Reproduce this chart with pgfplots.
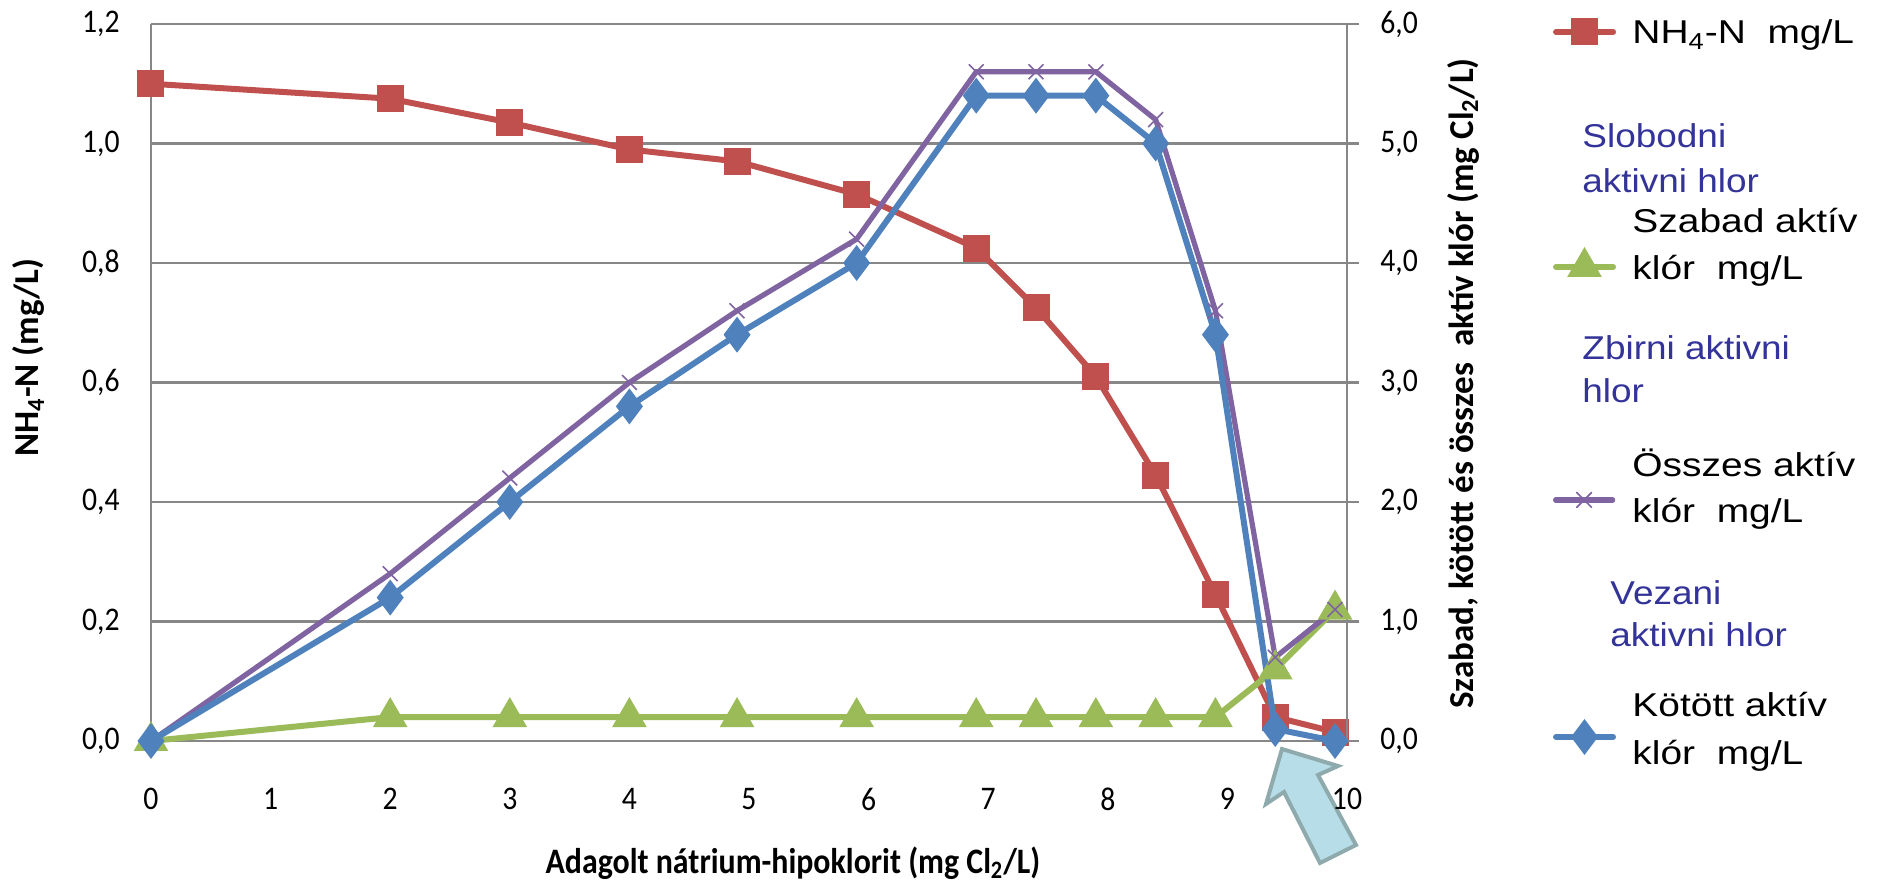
\documentclass[border=0pt]{standalone}
\usepackage{pgfplots}
\pgfplotsset{compat=1.18}
\usepackage{fontspec}
\setmainfont{Carlito}
\newfontfamily\tickfont{Carlito}[FakeStretch=0.9]
\newfontfamily\xtfont{Carlito}[FakeStretch=0.89]
\newfontfamily\legfont{Liberation Sans}[FakeStretch=1.18]
\newfontfamily\bluefont{Liberation Sans}[FakeStretch=1.12]
\definecolor{cred}{HTML}{C0504D}
\definecolor{cgreen}{HTML}{9BBB59}
\definecolor{cpurple}{HTML}{8064A2}
\definecolor{cblue}{HTML}{4F81BD}
\definecolor{gridc}{HTML}{878787}
\definecolor{legblue}{HTML}{333399}
\definecolor{arrfill}{HTML}{B7DEE8}
\definecolor{arrdraw}{HTML}{8FAAAC}
\begin{document}
\begin{tikzpicture}
\path[use as bounding box] (-75.5pt,-70pt) rectangle (864pt,370.5pt);
\filldraw[fill=arrfill, draw=arrdraw, line width=2pt, line join=miter]
  (565.5pt,-4pt) -- (593.5pt,-12.5pt) -- (583.5pt,-17pt) -- (602.5pt,-52pt)
  -- (584.5pt,-61pt) -- (566.5pt,-25.5pt) -- (557.5pt,-31.5pt) -- cycle;
\pgfplotsset{
  base/.style={width=598pt, height=358.5pt, scale only axis, xmin=0, xmax=10, clip=false,
    ticklabel style={font=\tickfont\fontsize{16.5}{18}\selectfont, inner sep=0pt},
    /pgf/number format/assume math mode=true,
    yticklabel style={/pgf/number format/fixed, /pgf/number format/fixed zerofill,
      /pgf/number format/precision=1, /pgf/number format/use comma},
  },
  legax/.style={width=598pt, height=358.5pt, scale only axis, xmin=0, xmax=10, ymin=0, ymax=1, hide axis,
    legend style={at={(axis description cs:1.17224,#1)}, anchor=west, draw=none, fill=none,
      inner sep=0pt, outer sep=0pt, row sep=0pt, column sep=0pt, cells={anchor=west},
      nodes={inner sep=0pt}},
    legend image code/.code={\draw[mark repeat=2,mark phase=2,line cap=round,##1]
      plot coordinates {(0pt,0pt) (14.25pt,0pt) (28.5pt,0pt)};},
  },
  redst/.style={cred, line width=3pt, mark=square*, mark size=5.25pt, mark options={solid}},
  greenst/.style={cgreen, line width=3pt, mark=triangle*, mark size=7pt, mark options={solid}},
  purplest/.style={cpurple, line width=2.6pt, mark=x, mark size=5.25pt, mark options={solid, line width=0.8pt}},
  bluest/.style={cblue, line width=3pt, mark=diamond*, mark size=6.5pt, mark options={solid}},
}
\begin{axis}[base,
  ymin=0, ymax=1.2, ytick={0,0.2,0.4,0.6,0.8,1.0,1.2},
  ymajorgrids, grid style={gridc, line width=1.4pt},
  axis y line*=left, axis x line*=bottom,
  x axis line style={draw=none},
  y axis line style={gridc, line width=1.4pt},
  xtick={0,1,2,3,4,5,6,7,8,9,10}, major tick length=0pt,
  tick style={draw=none},
  xticklabel style={yshift=-23.5pt},
  yticklabel style={xshift=-15.5pt},
  xlabel={\xtfont\bfseries Adagolt nátrium-hipoklorit (mg Cl\textsubscript{2}/L)},
  xlabel style={at={(axis description cs:0.5368,-0.1845)}, anchor=base, font=\fontsize{17.9}{20}\selectfont},
  ylabel={\bfseries NH\textsubscript{4}-N (mg/L)},
  ylabel style={at={(axis description cs:-0.09365,0.53487)}, anchor=base, font=\fontsize{17.5}{20}\selectfont},
]
\addplot[redst] coordinates {
(0,1.10) (2,1.075) (3,1.035) (4,0.99) (4.9,0.97) (5.9,0.915) (6.9,0.825)
(7.4,0.725) (7.9,0.61) (8.4,0.445) (8.9,0.245) (9.4,0.04) (9.9,0.015)};
\end{axis}
\begin{axis}[base,
  ymin=0, ymax=6, ytick={0,1,2,3,4,5,6},
  axis y line*=right, axis x line=none,
  y axis line style={gridc, line width=1.4pt},
  tick align=outside, major tick length=6pt,
  ytick style={gridc, line width=1.4pt},
  yticklabel style={xshift=10.5pt},
  ylabel={\bfseries Szabad, kötött és összes\ \ aktív klór (mg Cl\textsubscript{2}/L)},
  ylabel style={at={(axis description cs:1.10535,0.4986)}, anchor=base, font=\fontsize{17.5}{20}\selectfont},
]
\addplot[greenst] coordinates {
(0,0) (2,0.2) (3,0.2) (4,0.2) (4.9,0.2) (5.9,0.2) (6.9,0.2)
(7.4,0.2) (7.9,0.2) (8.4,0.2) (8.9,0.2) (9.4,0.6) (9.9,1.1)};
\addplot[purplest] coordinates {
(0,0) (2,1.4) (3,2.2) (4,3.0) (4.9,3.6) (5.9,4.2) (6.9,5.6)
(7.4,5.6) (7.9,5.6) (8.4,5.2) (8.9,3.6) (9.4,0.7) (9.9,1.1)};
\addplot[bluest] coordinates {
(0,0) (2,1.2) (3,2.0) (4,2.8) (4.9,3.4) (5.9,4.0) (6.9,5.4)
(7.4,5.4) (7.9,5.4) (8.4,5.0) (8.9,3.4) (9.4,0.1) (9.9,0.0)};
\end{axis}
% legend samples (one small legend each); their texts are set as nodes below
\begin{axis}[legax=0.98884]
\addlegendimage{redst}
\addlegendentry{}
\end{axis}
\begin{axis}[legax=0.66597]
\addlegendimage{greenst}
\addlegendentry{}
\end{axis}
\begin{axis}[legax=0.33612]
\addlegendimage{purplest}
\addlegendentry{}
\end{axis}
\begin{axis}[legax=0.00558]
\addlegendimage{bluest}
\addlegendentry{}
\end{axis}
\begin{scope}[every node/.style={anchor=base west, inner sep=0pt, font=\legfont\fontsize{16.5}{20}\selectfont}]
\node at (740.5pt,348.5pt) {NH\textsubscript{4}-N\ \ mg/L};
\node at (740.5pt,254pt) {Szabad aktív};
\node at (740.5pt,230.5pt) {klór\ \ mg/L};
\node at (740.5pt,132pt) {Összes aktív};
\node at (740.5pt,109pt) {klór\ \ mg/L};
\node at (740.5pt,12pt) {Kötött aktív};
\node at (740.5pt,-12pt) {klór\ \ mg/L};
\end{scope}
\begin{scope}[every node/.style={anchor=base west, inner sep=0pt, text=legblue, font=\bluefont\fontsize{16.5}{20}\selectfont}]
\node at (715.5pt,296.5pt) {Slobodni};
\node at (715.5pt,274pt) {aktivni hlor};
\node at (715.5pt,190.5pt) {Zbirni aktivni};
\node at (715.5pt,169pt) {hlor};
\node at (729.5pt,68pt) {Vezani};
\node at (729.5pt,47pt) {aktivni hlor};
\end{scope}
\end{tikzpicture}
\end{document}
